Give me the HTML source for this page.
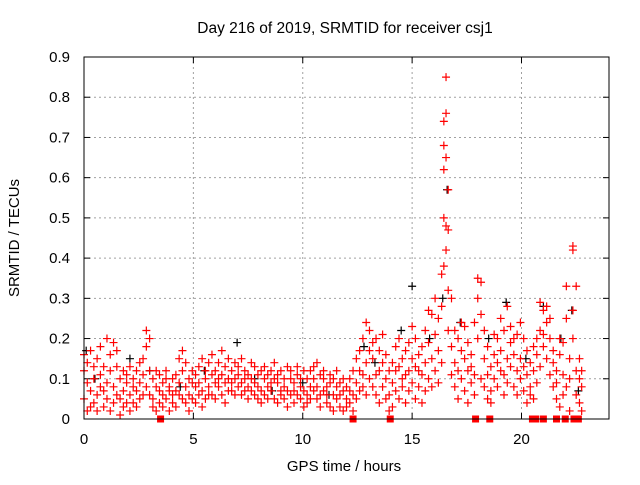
<!DOCTYPE html>
<html><head><meta charset="utf-8"><style>
html,body{margin:0;padding:0;background:#fff;}
svg text{font-family:"Liberation Sans",sans-serif;font-size:15px;fill:#000;}
</style></head><body>
<svg id="chart" width="640" height="480">
<text x="345" y="33" text-anchor="middle" style="font-size:15.5px">Day 216 of 2019, SRMTID for receiver csj1</text>
<text x="344" y="471" text-anchor="middle">GPS time / hours</text>
<text transform="translate(19,238) rotate(-90)" text-anchor="middle">SRMTID / TECUs</text>
<g id="grid"></g>
<g id="ticks"></g>
<g id="black"></g>
<g id="red"></g>
<rect x="84" y="57" width="525" height="362" fill="none" stroke="#000" stroke-width="1"/>
</svg>
<script>
const xTicks=[0,5,10,15,20];
const yTicks=[0,0.1,0.2,0.3,0.4,0.5,0.6,0.7,0.8,0.9];
const yTickLabels=["0","0.1","0.2","0.3","0.4","0.5","0.6","0.7","0.8","0.9"];
const redRows=[
[0.0,.05,.12,.16],[0.15,.02,.09,.14],[0.3,.07,.17,.03],[0.45,.1,.04,.13],[0.6,.06,.15,.02],[0.75,.11,.08,.18],[0.9,.03,.13,.07],[1.05,.2,.09,.05],[1.2,.16,.12,.02],[1.35,.08,.19,.04],[1.5,.13,.06,.17],[1.65,.01,.1,.05],[1.8,.07,.03,.12],[1.95,.04,.09,.11],[2.1,.06,.13,.02],[2.25,.1,.04,.08],[2.4,.03,.12,.07],[2.55,.09,.05,.14],[2.7,.15,.06,.11],[2.85,.22,.18,.08],[3.0,.2,.12,.06],[3.15,.05,.1,.03],[3.3,.08,.02,.12],[3.45,.04,.11,.07],[3.6,.09,.03,.06],[3.75,.12,.05,.1],[3.9,.07,.02,.08],[4.05,.04,.1,.06],[4.2,.11,.07,.03],[4.35,.15,.06,.09],[4.5,.17,.12,.05],[4.65,.08,.14,.04],[4.8,.06,.1,.02],[4.95,.09,.05,.12],[5.1,.04,.08,.11],[5.25,.13,.06,.09],[5.4,.07,.15,.03],[5.55,.1,.05,.12],[5.7,.14,.08,.06],[5.85,.06,.11,.16],[6.0,.12,.09,.05],[6.15,.08,.14,.1],[6.3,.11,.06,.17],[6.45,.09,.13,.04],[6.6,.15,.1,.07],[6.75,.07,.12,.09],[6.9,.1,.06,.14],[7.05,.13,.08,.11],[7.2,.09,.15,.06],[7.35,.12,.07,.1],[7.5,.08,.11,.05],[7.65,.1,.14,.07],[7.8,.06,.09,.13],[7.95,.11,.05,.08],[8.1,.07,.12,.04],[8.25,.1,.06,.13],[8.4,.08,.11,.05],[8.55,.12,.07,.09],[8.7,.05,.1,.14],[8.85,.09,.04,.11],[9.0,.07,.12,.06],[9.15,.1,.05,.08],[9.3,.13,.07,.03],[9.45,.06,.1,.12],[9.6,.09,.04,.07],[9.75,.11,.06,.13],[9.9,.05,.08,.1],[10.05,.07,.03,.12],[10.2,.1,.06,.04],[10.35,.08,.12,.05],[10.5,.13,.07,.1],[10.65,.05,.14,.08],[10.8,.11,.06,.03],[10.95,.07,.1,.12],[11.1,.04,.08,.06],[11.25,.09,.03,.11],[11.4,.06,.1,.02],[11.55,.08,.05,.12],[11.7,.03,.09,.06],[11.85,.07,.02,.1],[12.0,.05,.08,.03],[12.15,.1,.04,.07],[12.3,.06,.12,.02],[12.45,.09,.15,.05],[12.6,.12,.07,.17],[12.75,.08,.2,.11],[12.9,.24,.14,.06],[13.05,.22,.1,.17],[13.2,.15,.08,.19],[13.35,.11,.2,.06],[13.5,.17,.12,.04],[13.65,.14,.08,.21],[13.8,.1,.16,.05],[13.95,.06,.12,.02],[14.1,.09,.03,.14],[14.25,.18,.07,.12],[14.4,.13,.2,.05],[14.55,.08,.15,.1],[14.7,.17,.11,.04],[14.85,.12,.19,.07],[15.0,.23,.15,.09],[15.15,.2,.13,.05],[15.3,.16,.08,.12],[15.45,.11,.18,.04],[15.6,.07,.14,.22],[15.75,.19,.1,.27],[15.9,.26,.15,.08],[16.05,.21,.12,.3],[16.2,.17,.25,.09],[16.35,.36,.28,.14],[16.45,.38,.5,.62,.68,.74],[16.55,.85,.76,.65,.48,.42],[16.65,.57,.47,.32,.22],[16.8,.3,.18,.11],[16.95,.14,.22,.08],[17.1,.2,.12,.05],[17.25,.17,.24,.1],[17.4,.23,.15,.07],[17.55,.12,.19,.04],[17.7,.09,.16,.13],[17.85,.24,.11,.06],[18.0,.35,.3,.2],[18.15,.34,.26,.1],[18.3,.15,.08,.22],[18.45,.11,.05,.18],[18.6,.07,.13,.04],[18.75,.16,.1,.21],[18.9,.2,.14,.08],[19.05,.25,.17,.12],[19.2,.22,.11,.06],[19.35,.28,.15,.09],[19.5,.19,.13,.23],[19.65,.16,.08,.2],[19.8,.12,.21,.06],[19.95,.24,.1,.15],[20.1,.2,.07,.13],[20.25,.11,.04,.17],[20.4,.08,.14,.06],[20.55,.12,.18,.05],[20.7,.16,.09,.2],[20.85,.22,.13,.29],[21.0,.27,.18,.21],[21.15,.24,.15,.28],[21.3,.2,.11,.25],[21.45,.17,.08,.14],[21.6,.12,.05,.09],[21.75,.16,.2,.03],[21.9,.19,.11,.06],[22.05,.33,.25,.08],[22.2,.15,.02,.1],[22.35,.43,.42,.27,.2],[22.5,.33,.12,.06],[22.65,.1,.04,.15],[22.75,.08,.02,.12]
];
const blackPts=[[0.1,.17],[0.5,.1],[2.1,.15],[3.0,.12],[4.4,.08],[5.5,.12],[7.0,.19],[7.8,.1],[8.6,.07],[10.0,.09],[11.2,.06],[12.8,.18],[13.3,.14],[14.5,.22],[15.0,.33],[15.8,.2],[16.4,.3],[16.6,.57],[17.2,.24],[18.5,.2],[19.3,.29],[20.2,.15],[21.0,.28],[21.8,.2],[22.3,.27],[22.6,.07]];
const zeroSquares=[3.5,12.3,14.0,17.9,18.55,20.5,20.65,21.0,21.6,22.0,22.4,22.6];

const X0=84,X1=609,Y0=419,Y1=57,XMAX=24,YMAX=0.9;
const sx=t=>X0+t/XMAX*(X1-X0);
const sy=v=>Y0-v/YMAX*(Y0-Y1);
const NS="http://www.w3.org/2000/svg";
function mk(tag,attrs,parent){const e=document.createElementNS(NS,tag);for(const k in attrs)e.setAttribute(k,attrs[k]);parent.appendChild(e);return e;}
const grid=document.getElementById('grid'),ticks=document.getElementById('ticks');
xTicks.forEach(t=>{
  const x=sx(t);
  if(t>0){const g=mk('line',{x1:x,x2:x,y1:Y1,y2:Y0,stroke:'#a0a0a0','stroke-dasharray':'2,3'},grid);
  
  }
  mk('line',{x1:x,x2:x,y1:Y0,y2:Y0-6,stroke:'#000'},ticks);
  mk('line',{x1:x,x2:x,y1:Y1,y2:Y1+6,stroke:'#000'},ticks);
  const l=mk('text',{x:x,y:Y0+25,'text-anchor':'middle'},ticks);l.textContent=String(t);
  
  
});
yTicks.forEach((v,i)=>{
  const y=sy(v);
  if(v>0&&v<YMAX){const g=mk('line',{x1:X0,x2:X1,y1:y,y2:y,stroke:'#a0a0a0','stroke-dasharray':'2,3'},grid);
  
  }
  mk('line',{x1:X0,x2:X0+6,y1:y,y2:y,stroke:'#000'},ticks);
  mk('line',{x1:X1,x2:X1-6,y1:y,y2:y,stroke:'#000'},ticks);
  const l=mk('text',{x:X0-14,y:y+5,'text-anchor':'end'},ticks);l.textContent=yTickLabels[i];
  
  
});
function plus(t,v,col,parent){
  const x=sx(t),y=sy(v);
  const p=mk('path',{d:`M${x-4},${y}H${x+4}M${x},${y-4}V${y+4}`,stroke:col,'stroke-width':1.2,fill:'none'},parent);
  
  
}
const bg=document.getElementById('black'),rg=document.getElementById('red');
blackPts.forEach(p=>plus(p[0],p[1],'#000',bg));
redRows.forEach(r=>{for(let i=1;i<r.length;i++)plus(r[0],r[i],'#ff0000',rg);});
zeroSquares.forEach(t=>{
  const s=mk('rect',{x:sx(t)-3.5,y:sy(0)-3.5,width:7,height:7,fill:'#ff0000'},rg);
  
  
});
</script>
</body></html>
